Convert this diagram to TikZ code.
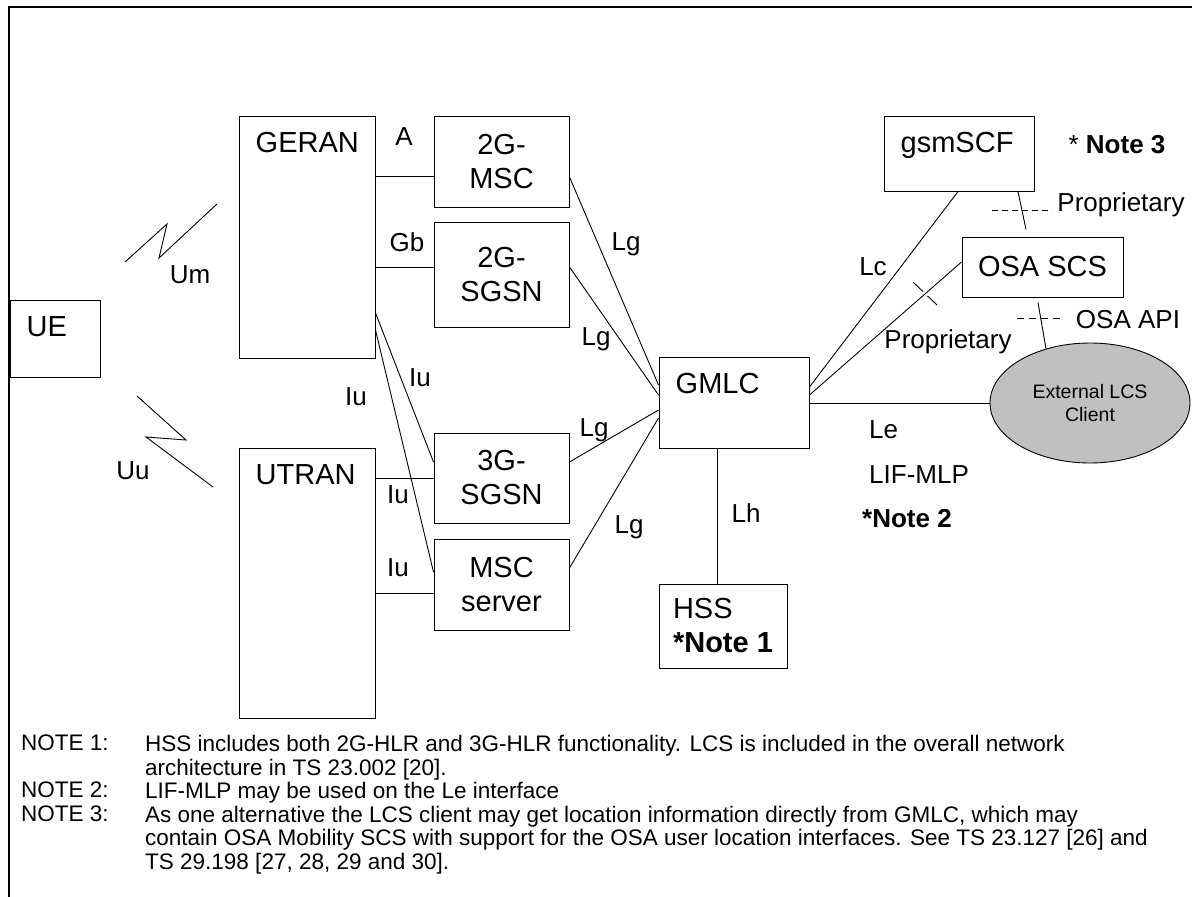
\documentclass[tikz,border=0pt]{standalone}
\usepackage{fontspec}
\setmainfont{Liberation Sans}
\usetikzlibrary{positioning,shapes.geometric,calc}

\newcommand{\boxfont}{\fontsize{29}{34}\selectfont}
\newcommand{\lblfont}{\fontsize{26}{30}\selectfont}
\newcommand{\notefont}{\fontsize{22.5}{23.5}\selectfont}
\newcommand{\clientfont}{\fontsize{19.5}{23}\selectfont}
\definecolor{clientgray}{RGB}{192,192,192}

\tikzset{
  netbox/.style={draw, line width=1pt, inner sep=0pt, font=\boxfont, align=center},
  intext/.style={anchor=north west, inner sep=0pt, xshift=17pt, yshift=-17pt, font=\boxfont},
  iflbl/.style={inner sep=0pt, font=\lblfont},
  link/.style={line width=0.9pt},
  notetext/.style={anchor=north west, inner sep=0pt, font=\notefont, align=left},
}

\begin{document}
\begin{tikzpicture}[x=1pt, y=-1pt]
    \useasboundingbox (0,0) rectangle (1192,897);
    % Frame
    \draw[line width=2.5pt] (1192,7) -- (9,7) -- (9,897);

    % Network elements
    \node (ue) at (55,338.5) [netbox, minimum width=90, minimum height=77,
        label={[intext]north west:UE}] {};
    \node (geran) at (307,237) [netbox, minimum width=136, minimum height=242,
        label={[intext]north west:GERAN}] {};
    \node (utran) at (307,583) [netbox, minimum width=136, minimum height=270,
        label={[intext]north west:UTRAN}] {};
    \node (msc2g) at (501.5,161.5) [netbox, minimum width=135, minimum height=91] {2G-\\MSC};
    \node (sgsn2g) at (501.5,274.5) [netbox, minimum width=135, minimum height=105] {2G-\\SGSN};
    \node (sgsn3g) at (501.5,478) [netbox, minimum width=135, minimum height=90] {3G-\\SGSN};
    \node (mscs) at (501.5,584.5) [netbox, minimum width=135, minimum height=91] {MSC\\server};
    \node (gmlc) at (734,402.5) [netbox, minimum width=150, minimum height=91,
        label={[intext]north west:GMLC}] {};
    \node (hss) at (723,626) [netbox, minimum width=128, minimum height=84, align=left] {HSS\\\textbf{*Note 1}};
    \node (gsmscf) at (959,153.5) [netbox, minimum width=150, minimum height=75,
        label={[intext]north west:gsmSCF}] {};
    \node (osascs) at (1042.5,267) [netbox, minimum width=161, minimum height=60] {OSA SCS};
    \node (lcs) at (1090,403) [ellipse, draw, line width=0.9pt, fill=clientgray, inner sep=0pt,
        minimum width=200, minimum height=120, font=\clientfont, align=center] {External LCS\\Client};

    % Radio interfaces
    \draw[link] (125,262) -- (167,224) -- (159,258) -- (217,204);
    \draw[link] (137,396) -- (186,440) -- (146,437) -- (213,487);

    % Interfaces
    \draw[link] (geran.east |- 0,176) -- (msc2g.west |- 0,176);
    \draw[link] (geran.east |- 0,267) -- (sgsn2g.west |- 0,267);
    \draw[link] (geran.east |- 0,313) -- (sgsn3g.west |- 0,462);
    \draw[link] (geran.east |- 0,330) -- (mscs.west |- 0,572);
    \draw[link] (utran.east |- 0,478) -- (sgsn3g.west |- 0,478);
    \draw[link] (utran.east |- 0,593) -- (mscs.west |- 0,593);
    \draw[link] (msc2g.east |- 0,177) -- (gmlc.west |- 0,385);
    \draw[link] (sgsn2g.east |- 0,267) -- (gmlc.west |- 0,395);
    \draw[link] (sgsn3g.east |- 0,462) -- (gmlc.west |- 0,410);
    \draw[link] (mscs.east |- 0,568) -- (gmlc.west |- 0,418);
    \draw[link] (gmlc.south -| 717,0) -- (hss.north -| 717,0);
    \draw[link] (gmlc.east |- lcs.west) -- (lcs.west);
    \draw[link] (gmlc.east |- 0,387) -- (gsmscf.south -| 958,0);
    \draw[link] (gmlc.east |- 0,395) -- (osascs.west |- 0,262);
    \draw[link] (gsmscf.south -| 1018,0) -- ($(osascs.north -| 1026,0)+(0,-7)$);
    \draw[link] ($(osascs.south -| 1038,0)+(0,5)$) -- (lcs.129);

    % Dashed marks
    \draw[link, dash pattern=on 6pt off 4pt] (992,210) -- (1052,210);
    \draw[link, dash pattern=on 7pt off 5pt] (1017,318) -- (1063,318);
    \draw[link, dash pattern=on 14pt off 6pt] (913,282) -- (937,305);

    % Interface labels
    \node (lblum) at (190,275) [iflbl] {Um};
    \node (lbluu) at (133,471) [iflbl] {Uu};
    \node (lbla) at (404,137) [iflbl] {A};
    \node (lblgb) at (407,242) [iflbl] {Gb};
    \node (lbliua) at (356,397) [iflbl] {Iu};
    \node (lbliub) at (420,378) [iflbl] {Iu};
    \node (lbliuc) at (398,495) [iflbl] {Iu};
    \node (lbliud) at (398,568) [iflbl] {Iu};
    \node (lbllga) at (626,244) [iflbl] {Lg};
    \node (lbllgb) at (596,339) [iflbl] {Lg};
    \node (lbllgc) at (594,430) [iflbl] {Lg};
    \node (lbllgd) at (629,527) [iflbl] {Lg};
    \node (lbllh) at (746,513) [iflbl] {Lh};
    \node (lbllc) at (873,267) [iflbl] {Lc};
    \node (lblprop) at (948,342) [iflbl] {Proprietary};
    \node (lblpropb) at (1121,205) [iflbl] {Proprietary};
    \node (lblapi) at (1128,320) [iflbl] {OSA API};
    \node (lblnote3) at (1117,145) [iflbl] {* \textbf{Note 3}};
    \node (lblle) at (869,430) [iflbl, anchor=west] {Le};
    \node (lbllif) at (869,475) [iflbl, anchor=west] {LIF-MLP};
    \node (lblnote2) at (862,519) [iflbl, anchor=west] {\textbf{*Note 2}};

    % Notes
    \node (notea) at (21,735) [notetext] {NOTE 1:};
    \node (noteatxt) at (145,735) [notetext] {HSS includes both 2G-HLR and 3G-HLR functionality. LCS is included in the overall network\\architecture in TS 23.002 [20].};
    \node (noteb) at (21,782) [notetext] {NOTE 2:};
    \node (notebtxt) at (145,782) [notetext] {LIF-MLP may be used on the Le interface};
    \node (notec) at (21,805.5) [notetext] {NOTE 3:};
    \node (notectxt) at (145,805.5) [notetext] {As one alternative the LCS client may get location information directly from GMLC, which may\\contain OSA Mobility SCS with support for the OSA user location interfaces. See TS 23.127 [26] and\\TS 29.198 [27, 28, 29 and 30].};
\end{tikzpicture}
\end{document}
